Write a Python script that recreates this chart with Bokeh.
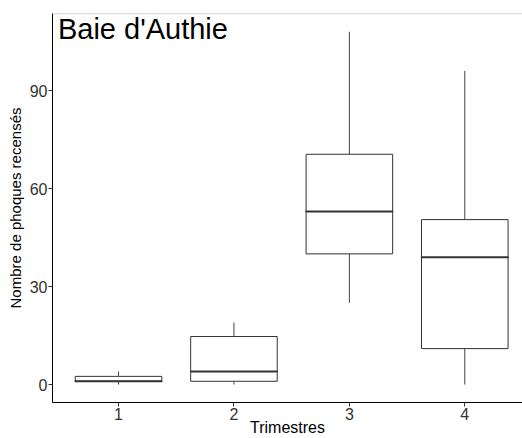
from bokeh.plotting import figure
from bokeh.models import ColumnDataSource, FixedTicker, Range1d, Span, Label
from bokeh.embed import file_html
from bokeh.resources import INLINE

# Data
trimestres = [1, 2, 3, 4]
lower = [0, 0, 25, 0]
q1 = [1, 1, 40, 11]
median = [1, 4, 53, 39]
q3 = [2.5, 14.7, 70.5, 50.5]
upper = [4, 19, 108, 96]
y_ticks = [0, 30, 60, 90]
title_text = "Baie d'Authie"

src = ColumnDataSource(dict(x=trimestres, lower=lower, q1=q1, median=median, q3=q3, upper=upper))

FONT = "Liberation Sans"
YTOP = 113.6
p = figure(width=522, height=438, output_backend="svg", toolbar_location=None,
           x_range=Range1d(0.428, 4.5), y_range=Range1d(-5.5, YTOP),
           min_border_left=52, min_border_right=0, min_border_top=13, min_border_bottom=36)
p.outline_line_color = None
p.xgrid.visible = False
p.ygrid.visible = False

# whiskers
p.segment(x0="x", x1="x", y0="q3", y1="upper", source=src, line_color="#444444", line_width=1)
p.segment(x0="x", x1="x", y0="lower", y1="q1", source=src, line_color="#444444", line_width=1)
# boxes
p.vbar(x="x", width=0.75, bottom="q1", top="q3", source=src, fill_color="white",
       line_color="#333333", line_width=1)
# medians
p.rect(x="x", y="median", width=0.75, height=0.0001, source=src, fill_color=None,
       line_color="#333333", line_width=2)

# top border
p.add_layout(Span(location=YTOP, dimension="width", line_color="#c8c8c8", line_width=1.5))

for ax in (p.xaxis[0], p.yaxis[0]):
    ax.axis_line_color = "black"
    ax.axis_line_width = 1
    ax.major_tick_line_color = "#333333"
    ax.major_tick_in = 0
    ax.major_tick_out = 4
    ax.minor_tick_line_color = None
    ax.major_label_text_font = FONT
    ax.major_label_text_font_size = "16px"
    ax.major_label_text_color = "#333333"
    ax.axis_label_text_font = FONT
    ax.axis_label_text_font_style = "normal"
    ax.axis_label_text_color = "black"

p.xaxis.axis_label_text_font_size = "16px"
p.yaxis.axis_label_text_font_size = "15px"
p.xaxis.major_label_standoff = 1
p.xaxis.axis_label_standoff = -4
p.yaxis.major_label_standoff = 1
p.yaxis.axis_label_standoff = 3

p.xaxis.ticker = FixedTicker(ticks=trimestres)
p.yaxis.ticker = FixedTicker(ticks=y_ticks)
p.xaxis.axis_label = "Trimestres"
p.yaxis.axis_label = "Nombre de phoques recensés"

p.add_layout(Label(x=0.475, y=109, text=title_text, text_font=FONT, text_font_size="29px",
                   text_color="black", text_baseline="alphabetic"))

open("out.html", "w").write(file_html(p, INLINE))
